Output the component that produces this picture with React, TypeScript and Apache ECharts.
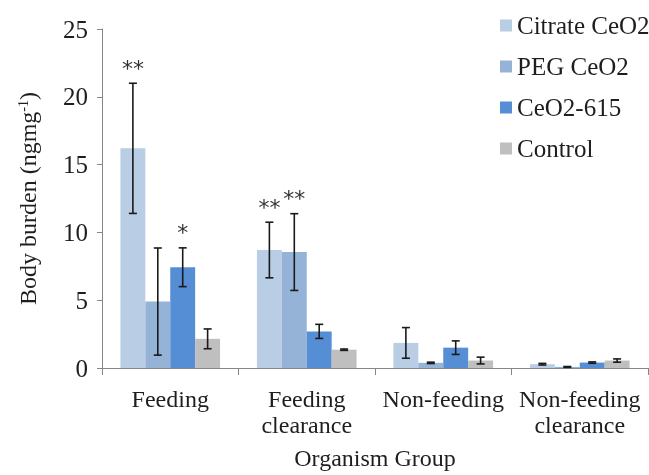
import React, { useEffect, useRef } from "react";
import * as echarts from "echarts";

const categories = ["Feeding", "Feeding\nclearance", "Non-feeding", "Non-feeding\nclearance"];
const seriesNames = ["Citrate CeO2", "PEG CeO2", "CeO2-615", "Control"];
const citrate = [16.2, 8.7, 1.85, 0.28];
const citrateErr = [4.8, 2.05, 1.13, 0.06];
const peg = [4.9, 8.55, 0.38, 0.08];
const pegErr = [3.95, 2.83, 0.05, 0.03];
const ceo2615 = [7.43, 2.7, 1.5, 0.4];
const ceo2615Err = [1.43, 0.52, 0.5, 0.05];
const control = [2.15, 1.35, 0.55, 0.55];
const controlErr = [0.73, 0.05, 0.25, 0.12];
const citrateSig = ["**", "**", "", ""];
const pegSig = ["", "**", "", ""];
const ceo2615Sig = ["*", "", "", ""];
const controlSig = ["", "", "", ""];
const yTicks = [0, 5, 10, 15, 20, 25];

const colors = ["#b9cde5", "#95b3d7", "#558ed5", "#bfbfbf"];
const FONT = "Liberation Serif";
const GAP = 0.27;

export default function App() {
  const ref = useRef<HTMLDivElement>(null);
  useEffect(() => {
    if (!ref.current) return;
    const chart = echarts.init(ref.current, null, { renderer: "svg" });
    const means = [citrate, peg, ceo2615, control];
    const errs = [citrateErr, pegErr, ceo2615Err, controlErr];
    const sigs = [citrateSig, pegSig, ceo2615Sig, controlSig];
    const errData: number[][] = [];
    const errSig: string[] = [];
    means.forEach((arr, s) => {
      arr.forEach((m, c) => {
        errData.push([c, m - errs[s][c], m + errs[s][c], s]);
        errSig.push(sigs[s][c]);
      });
    });
    chart.setOption({
      animation: false,
      color: colors,
      grid: { left: 102, right: 1, top: 29, bottom: 103 },
      legend: {
        orient: "vertical",
        left: 495,
        top: 8,
        itemWidth: 12,
        itemHeight: 12,
        itemGap: 16,
        icon: "rect",
        data: seriesNames,
        textStyle: { fontFamily: FONT, fontSize: 25, color: "#1e1e1e" },
      },
      xAxis: {
        type: "category",
        data: categories,
        name: "Organism Group",
        nameLocation: "middle",
        nameGap: 78,
        nameTextStyle: { fontFamily: FONT, fontSize: 24, color: "#1e1e1e" },
        axisLine: { lineStyle: { color: "#868686", width: 1 } },
        axisTick: { show: true, length: 7, lineStyle: { color: "#868686" } },
        axisLabel: { interval: 0, fontFamily: FONT, fontSize: 24, color: "#1e1e1e", margin: 18, lineHeight: 26 },
      },
      yAxis: {
        type: "value",
        min: 0,
        max: 25,
        interval: 5,
        name: "Body burden (ngmg{sup|-1})",
        nameLocation: "middle",
        nameGap: 62,
        nameRotate: 90,
        nameTextStyle: {
          fontFamily: FONT,
          fontSize: 24,
          color: "#1e1e1e",
          rich: { sup: { fontFamily: FONT, fontSize: 14, verticalAlign: "top", padding: [0, 0, 10, 0], color: "#1e1e1e" } },
        },
        splitLine: { show: false },
        axisLine: { show: true, lineStyle: { color: "#868686", width: 1 } },
        axisTick: { show: true, length: 5, lineStyle: { color: "#868686" } },
        axisLabel: {
          fontFamily: FONT,
          fontSize: 25,
          color: "#1e1e1e",
          margin: 14,
          formatter: (v: number) => (yTicks.includes(v) ? String(v) : ""),
        },
      },
      series: [
        ...means.map((arr, s) => ({
          type: "bar",
          name: seriesNames[s],
          data: arr,
          barGap: "0%",
          barCategoryGap: "27%",
          itemStyle: { color: colors[s] },
        })),
        {
          type: "custom",
          name: "err",
          data: errData,
          z: 10,
          clip: false,
          renderItem: (params: any, api: any) => {
            const c = api.value(0);
            const lo = api.value(1);
            const hi = api.value(2);
            const s = api.value(3);
            const band = api.size([1, 0])[0];
            const barW = (band * (1 - GAP)) / 4;
            const center = api.coord([c, 0])[0];
            const x = center + (s - 1.5) * barW;
            const yLo = api.coord([c, lo])[1];
            const yHi = api.coord([c, hi])[1];
            const cap = 4;
            const st = { stroke: "#1a1a1a", lineWidth: 1.6 };
            const children: any[] = [
              { type: "line", shape: { x1: x, y1: yLo, x2: x, y2: yHi }, style: st },
              { type: "line", shape: { x1: x - cap, y1: yLo, x2: x + cap, y2: yLo }, style: st },
              { type: "line", shape: { x1: x - cap, y1: yHi, x2: x + cap, y2: yHi }, style: st },
            ];
            const sig = errSig[params.dataIndex];
            if (sig) {
              children.push({
                type: "text",
                style: {
                  text: sig,
                  x: x,
                  y: yHi - 4,
                  align: "center",
                  verticalAlign: "bottom",
                  fontFamily: "DejaVu Sans",
                  fontSize: 22,
                  fill: "#333",
                },
              });
            }
            return { type: "group", children };
          },
        },
      ],
    });
    return () => chart.dispose();
  }, []);
  return <div ref={ref} style={{ width: 649, height: 475, position: "fixed", left: 0, top: 0 }} />;
}
